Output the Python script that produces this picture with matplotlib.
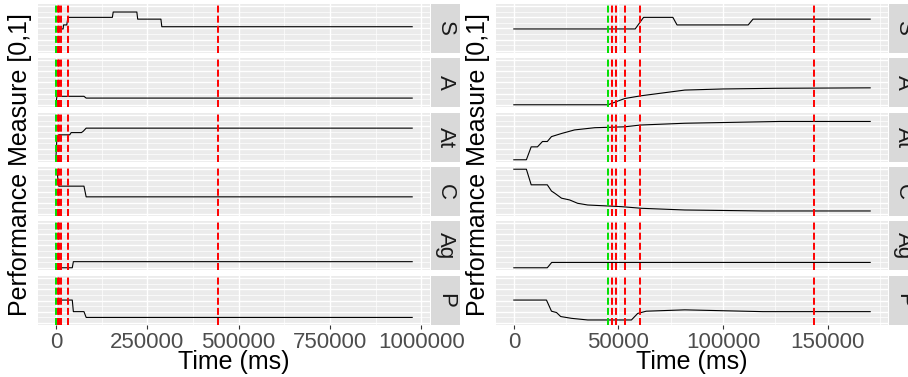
import matplotlib.pyplot as plt
from matplotlib.ticker import FixedLocator

plt.rcParams['font.family'] = ['Liberation Sans', 'DejaVu Sans']

facets = ['S', 'A', 'At', 'C', 'Ag', 'P']

# Left run (long, ~1e6 ms)
left_S_t = [0, 20000, 21000, 30000, 33000, 154700, 157000, 221700, 224000, 287500, 290000, 975000]
left_S_y = [0.49, 0.49, 0.58, 0.58, 0.75, 0.75, 0.87, 0.87, 0.71, 0.71, 0.54, 0.54]
left_A_t = [0, 3000, 77000, 83000, 975000]
left_A_y = [0.0, 0.19, 0.19, 0.15, 0.15]
left_At_t = [0, 3000, 8000, 38000, 42000, 70000, 75000, 83000, 975000]
left_At_y = [0.0, 0.5, 0.56, 0.56, 0.61, 0.61, 0.64, 0.71, 0.71]
left_C_t = [0, 3000, 8000, 77000, 83000, 975000]
left_C_y = [0.97, 0.97, 0.62, 0.62, 0.38, 0.38]
left_Ag_t = [0, 45000, 48000, 975000]
left_Ag_y = [0.0, 0.0, 0.137, 0.137]
left_P_t = [0, 45000, 48000, 77000, 83000, 975000]
left_P_y = [0.51, 0.51, 0.25, 0.25, 0.12, 0.12]
left_green = [700]
left_red = [4700, 9300, 15400, 33000, 445000]

# Right run (short, ~170000 ms)
right_S_t = [0, 58000, 62000, 76000, 78000, 112000, 114300, 170300]
right_S_y = [0.49, 0.49, 0.75, 0.75, 0.58, 0.58, 0.71, 0.71]
right_A_t = [0, 45000, 53000, 60500, 81700, 100000, 125500, 170300]
right_A_y = [0.0, 0.0, 0.14, 0.2, 0.33, 0.355, 0.37, 0.38]
right_At_t = [0, 6000, 8300, 11300, 13700, 16000, 18000, 22800, 29000, 38700, 53000, 60500, 81700, 127000, 170300]
right_At_y = [0.0, 0.0, 0.29, 0.29, 0.41, 0.41, 0.52, 0.59, 0.67, 0.72, 0.74, 0.78, 0.82, 0.86, 0.86]
right_C_t = [0, 6000, 8300, 16000, 18000, 19600, 22800, 26700, 30500, 35300, 51400, 61000, 81700, 119000, 170300]
right_C_y = [1.0, 1.0, 0.65, 0.65, 0.51, 0.46, 0.35, 0.31, 0.235, 0.197, 0.16, 0.123, 0.085, 0.063, 0.063]
right_Ag_t = [0, 16000, 18100, 170300]
right_Ag_y = [0.0, 0.0, 0.12, 0.12]
right_P_t = [0, 15600, 18000, 20400, 22400, 27500, 35300, 56200, 59200, 63300, 81700, 119000, 170300]
right_P_y = [0.51, 0.51, 0.26, 0.23, 0.14, 0.1, 0.063, 0.063, 0.21, 0.26, 0.29, 0.25, 0.25]
right_green = [45200]
right_red = [47100, 49000, 53000, 60500, 143600]

left_ticks = [0, 250000, 500000, 750000, 1000000]
right_ticks = [0, 50000, 100000, 150000]

W, H = 908, 377
fig = plt.figure(figsize=(W / 100, H / 100), dpi=100)


def box(x0, y0, x1, y1):
    return [x0 / W, 1 - y1 / H, (x1 - x0) / W, (y1 - y0) / H]


tops = [4, 58, 113, 167, 221, 276]
fh = 49

panels = [
    dict(x0=38, x1=430,
         series=[(left_S_t, left_S_y), (left_A_t, left_A_y), (left_At_t, left_At_y),
                 (left_C_t, left_C_y), (left_Ag_t, left_Ag_y), (left_P_t, left_P_y)],
         green=left_green, red=left_red, ticks=left_ticks, ylab_x=20),
    dict(x0=496, x1=888,
         series=[(right_S_t, right_S_y), (right_A_t, right_A_y), (right_At_t, right_At_y),
                 (right_C_t, right_C_y), (right_Ag_t, right_Ag_y), (right_P_t, right_P_y)],
         green=right_green, red=right_red, ticks=right_ticks, ylab_x=478),
]

for p in panels:
    tmax = max(max(t) for t, _ in p['series'])
    pad = 0.05 * tmax
    step = p['ticks'][1] - p['ticks'][0]
    minor = [t + step / 2 for t in p['ticks']]
    for i, (name, (t, y)) in enumerate(zip(facets, p['series'])):
        ax = fig.add_axes(box(p['x0'], tops[i], p['x1'], tops[i] + fh))
        ax.set_facecolor('#EBEBEB')
        for s in ax.spines.values():
            s.set_visible(False)
        ax.set_xlim(-pad, tmax + pad)
        ax.set_ylim(-0.05, 1.05)
        ax.xaxis.set_major_locator(FixedLocator(p['ticks']))
        ax.xaxis.set_minor_locator(FixedLocator(minor))
        ax.yaxis.set_major_locator(FixedLocator([0, 0.25, 0.5, 0.75, 1]))
        ax.yaxis.set_minor_locator(FixedLocator([0.125, 0.375, 0.625, 0.875]))
        ax.grid(which='major', color='white', lw=1.0)
        ax.grid(which='minor', color='white', lw=0.5)
        ax.set_axisbelow(True)
        ax.tick_params(axis='y', which='both', length=0, labelleft=False)
        ax.tick_params(axis='x', which='minor', length=0)
        if i == len(facets) - 1:
            ax.tick_params(axis='x', which='major', length=3, color='#333333',
                           labelsize=16, labelcolor='#4D4D4D', pad=2)
            ax.set_xticklabels([str(v) for v in p['ticks']])
        else:
            ax.tick_params(axis='x', which='major', length=0, labelbottom=False)
        ax.plot(t, y, color='black', lw=0.8)
        for g in p['green']:
            ax.axvline(g, color='#00E000', lw=1.4, ls=(0, (3.6, 1.6)))
        for r in p['red']:
            ax.axvline(r, color='red', lw=1.4, ls=(0, (3.6, 1.6)))

        sx = fig.add_axes(box(p['x1'] + 1, tops[i], p['x1'] + 30, tops[i] + fh))
        sx.set_facecolor('#D9D9D9')
        sx.set_xticks([])
        sx.set_yticks([])
        for s in sx.spines.values():
            s.set_visible(False)
        sx.text(0.5, 0.5, name, rotation=-90, ha='center', va='center',
                fontsize=16, color='#1A1A1A', transform=sx.transAxes)

    cx = (p['x0'] + p['x1']) / 2
    fig.text(cx / W, 1 - 362 / H, 'Time (ms)', ha='center', va='center', fontsize=18)
    fig.text(p['ylab_x'] / W, 1 - ((tops[0] + tops[-1] + fh) / 2) / H,
             'Performance Measure [0,1]', rotation=90, ha='center', va='center', fontsize=18)

fig.savefig('out.png', dpi=100)
